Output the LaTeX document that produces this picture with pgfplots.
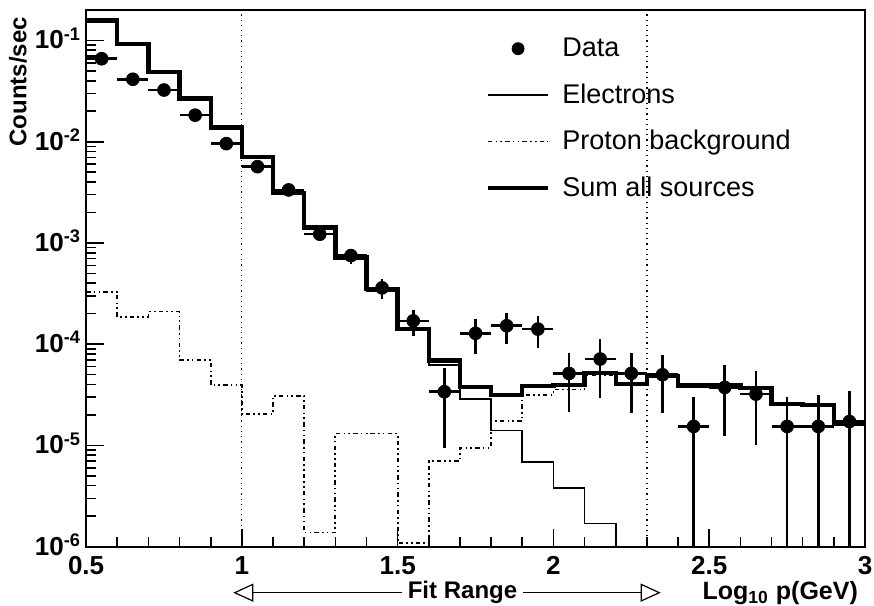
\documentclass[border=0pt]{standalone}
\usepackage{pgfplots}
\pgfplotsset{compat=1.18}
\usepackage{fontspec}
\setmainfont{Liberation Sans}
\usetikzlibrary{arrows.meta}

\pgfplotstableread{
x y
0.5 0.158
0.6 0.092
0.7 0.049
0.8 0.0267
0.9 0.0138
1.0 0.00708
1.1 0.0031
1.2 0.00142
1.3 0.000718
1.4 0.00035
1.5 1.41e-4
1.6 6.9e-5
1.7 3.8e-5
1.8 3.15e-5
1.9 3.85e-5
2.0 3.95e-5
2.1 5.19e-5
2.2 4.04e-5
2.3 4.84e-5
2.4 3.9e-5
2.5 3.9e-5
2.6 3.7e-5
2.7 2.56e-5
2.8 2.5e-5
2.9 1.65e-5
3.0 1.65e-5
}\sumtab

\pgfplotstableread{
x y
0.5 0.1577
0.6 0.0918
0.7 0.0488
0.8 0.0266
0.9 0.01376
1.0 0.00706
1.1 0.00307
1.2 0.00142
1.3 0.000705
1.4 0.000337
1.5 1.40e-4
1.6 6.2e-5
1.7 2.87e-5
1.8 1.4e-5
1.9 6.9e-6
2.0 3.8e-6
2.1 1.7e-6
2.2 1e-8
}\eletab

\pgfplotstableread{
x y
0.5 3.3e-4
0.6 1.86e-4
0.7 2.1e-4
0.8 7.0e-5
0.9 3.95e-5
1.0 2.04e-5
1.1 3.1e-5
1.2 1.38e-6
1.3 1.31e-5
1.4 1.31e-5
1.5 1.08e-6
1.6 7.0e-6
1.7 9.5e-6
1.8 1.75e-5
1.9 3.15e-5
2.0 3.57e-5
2.1 5.0e-5
2.2 4.04e-5
2.3 4.84e-5
2.4 3.9e-5
2.5 3.9e-5
2.6 3.7e-5
2.7 2.56e-5
2.8 2.5e-5
2.9 1.65e-5
3.0 1.65e-5
}\protab

\pgfplotstableread{
x y ep em
0.55 0.066 0 0
0.65 0.0414 0 0
0.75 0.0324 0 0
0.85 0.0183 0 0
0.95 0.00957 0 0
1.05 0.00567 0 0
1.15 0.00334 0 0
1.25 0.00122 0.00012 0.00012
1.35 7.5e-4 1.3e-4 1.3e-4
1.45 3.6e-4 0.8e-4 0.8e-4
1.55 1.70e-4 0.5e-4 0.5e-4
1.65 3.39e-5 2.45e-5 2.45e-5
1.75 1.28e-4 4.8e-5 4.8e-5
1.85 1.52e-4 5.2e-5 5.2e-5
1.95 1.41e-4 4.9e-5 4.9e-5
2.05 5.14e-5 3.0e-5 3.0e-5
2.15 7.13e-5 4.2e-5 4.2e-5
2.25 5.14e-5 3.05e-5 3.05e-5
2.35 4.99e-5 2.9e-5 2.9e-5
2.45 1.54e-5 1.5e-5 1.539e-5
2.55 3.74e-5 2.5e-5 2.5e-5
2.65 3.21e-5 2.2e-5 2.2e-5
2.75 1.54e-5 1.5e-5 1.539e-5
2.85 1.54e-5 1.6e-5 1.539e-5
2.95 1.72e-5 1.7e-5 1.719e-5
}\datatab

\begin{document}
\begin{tikzpicture}
\begin{axis}[
  scale only axis,
  width=389pt, height=268pt,
  xmin=0.5, xmax=3,
  ymode=log, log basis y=10,
  ymin=1e-6, ymax=0.2,
  axis line style={line width=1pt},
  tick align=inside,
  xtick pos=left, ytick pos=left,
  xtick={0.5,1,1.5,2,2.5,3},
  xticklabels={0.5,1,1.5,2,2.5,3},
  minor x tick num=4,
  yticklabel={10\textsuperscript{\pgfmathparse{int(round(\tick))}\pgfmathresult}},
  yticklabel style={xshift=1pt, yshift=1pt},
  xticklabel style={yshift=-1.5pt},
  ticklabel style={font=\bfseries\fontsize{13}{15}\selectfont},
  major tick length=9pt, minor tick length=5pt,
  every tick/.style={black, line width=0.8pt},
  legend style={at={(0.505,0.96)}, anchor=north west, draw=none, fill=none,
    font=\fontsize{13.5}{15}\selectfont, row sep=10pt,
    nodes={inner sep=1pt},
    /tikz/every odd column/.append style={column sep=5pt}},
  legend cell align=left,
  legend image code/.code={\draw[#1] (0pt,0pt) -- (30pt,0pt);},
]
\coordinate (SW) at (rel axis cs:0,0);
\coordinate (NE) at (rel axis cs:1,1);
\coordinate (SE) at (rel axis cs:1,0);
\coordinate (NW) at (rel axis cs:0,1);

\addlegendimage{legend image code/.code={\fill[black] (15pt,0pt) circle (3pt);}}
\addlegendentry{Data}
\addlegendimage{black, line width=0.8pt}
\addlegendentry{Electrons}
\addlegendimage{black, line width=0.9pt, dash pattern=on 2.2pt off 1.6pt on 0.8pt off 1.6pt on 0.8pt off 1.6pt}
\addlegendentry{Proton background}
\addlegendimage{black, line width=2.2pt}
\addlegendentry{Sum all sources}

\addplot[forget plot, black, line width=0.6pt, dotted] coordinates {(1,1e-6) (1,0.2)};
\addplot[forget plot, black, line width=0.6pt, dotted] coordinates {(2.3,1e-6) (2.3,0.2)};

\addplot[forget plot, const plot, black, line width=0.9pt, dash pattern=on 2.2pt off 1.6pt on 0.8pt off 1.6pt on 0.8pt off 1.6pt] table[x=x,y=y] {\protab};
\addplot[forget plot, const plot, black, line width=0.8pt] table[x=x,y=y] {\eletab};
\addplot[forget plot, const plot, black, line width=2.2pt] table[x=x,y=y] {\sumtab};

\addplot[forget plot, only marks, mark=*, mark size=3.2pt, black,
  error bars/.cd, x dir=both, x fixed=0.05, y dir=both, y explicit,
  error bar style={line width=1.3pt, black}, error mark=none]
  table[x=x, y=y, y error plus=ep, y error minus=em] {\datatab};
\end{axis}

\node[rotate=90, anchor=east, font=\bfseries\fontsize{12}{14}\selectfont]
  at ([shift={(-34pt,0pt)}]NW) {Counts/sec};

\draw[{Triangle[open,length=10pt,width=9pt]}-{Triangle[open,length=10pt,width=9pt]}, line width=0.6pt]
  ([shift={(73.5pt,-23pt)}]SW) -- ([shift={(287pt,-23pt)}]SW);
\node[fill=white, inner xsep=3pt, inner ysep=1pt, font=\bfseries\fontsize{12}{14}\selectfont]
  at ([shift={(188pt,-23pt)}]SW) {Fit Range};
\node[anchor=east, font=\bfseries\fontsize{12.5}{14}\selectfont]
  at ([shift={(0pt,-23pt)}]SE) {Log\textsubscript{10} p(GeV)};

\pgfresetboundingbox
\path[use as bounding box] ([shift={(-43pt,-29.5pt)}]SW) rectangle ([shift={(4.5pt,5pt)}]NE);
\end{tikzpicture}
\end{document}
